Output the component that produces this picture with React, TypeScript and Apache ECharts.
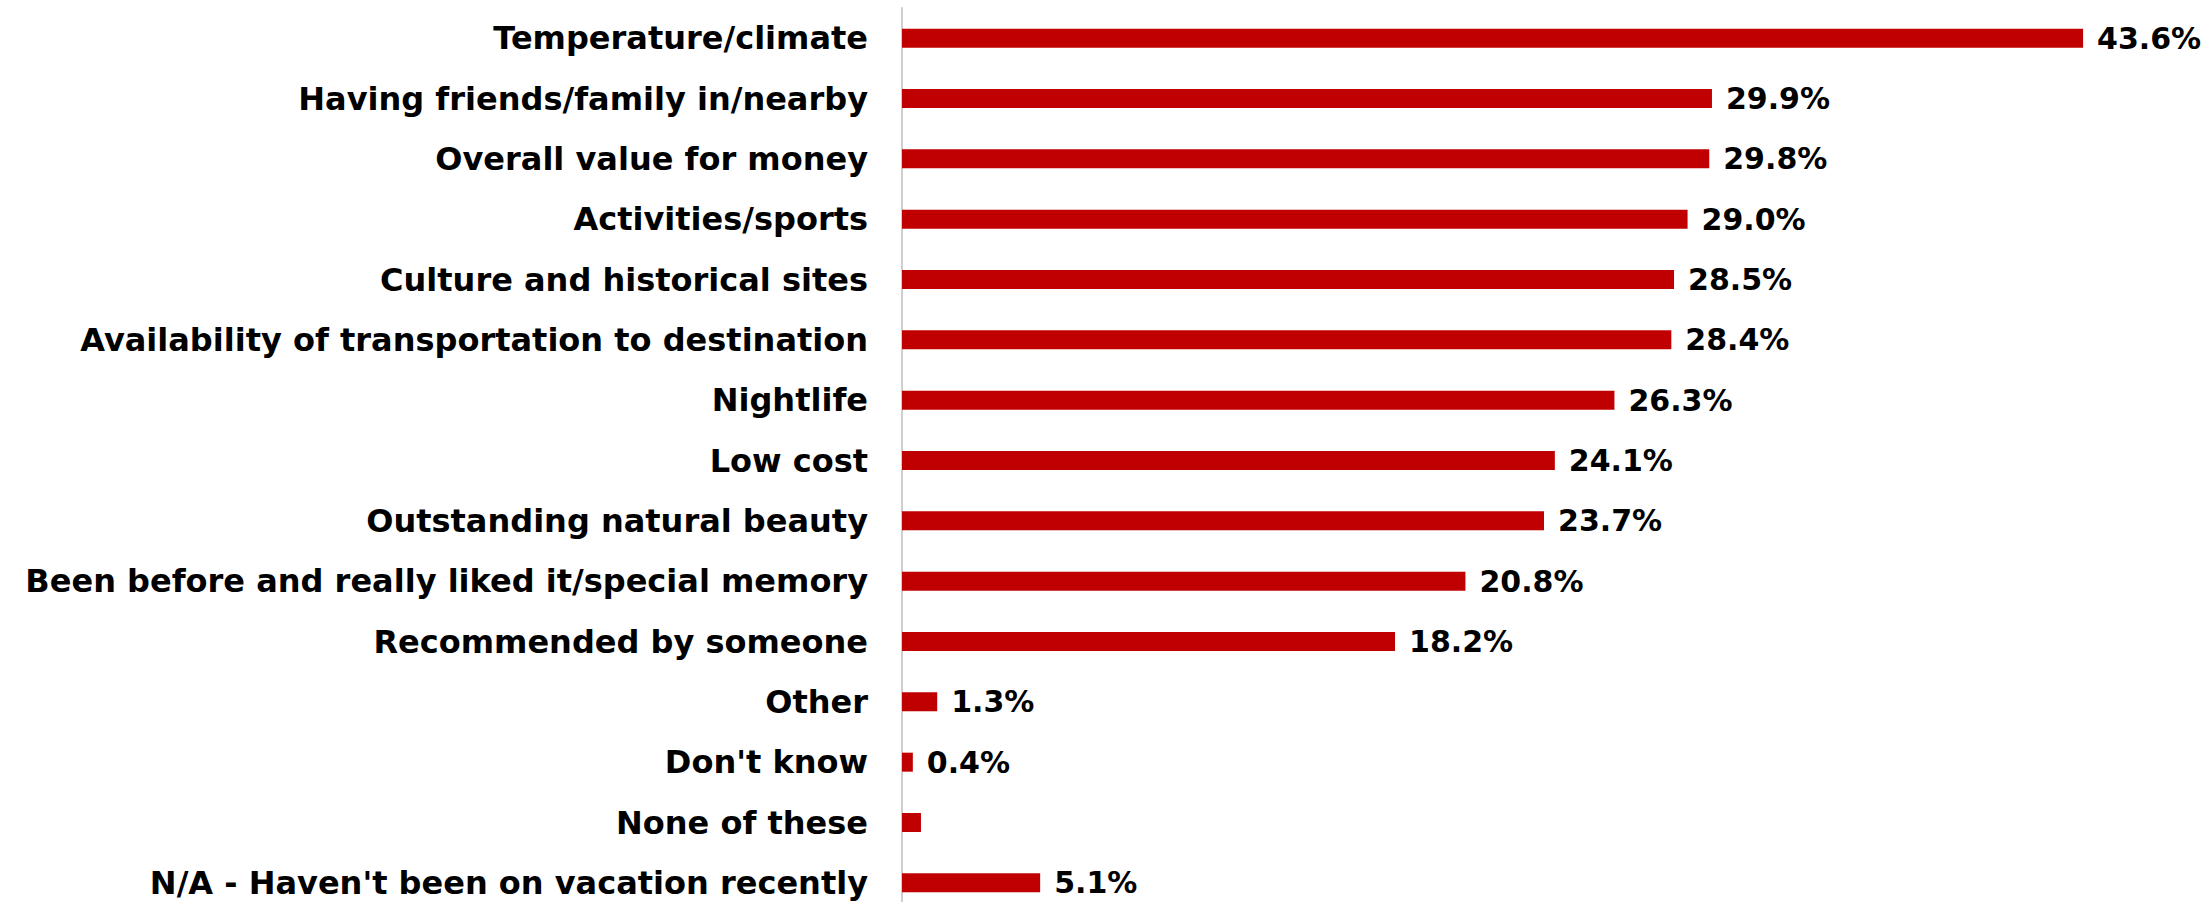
import React, { useEffect, useRef } from "react";
import * as echarts from "echarts";

const categories: string[] = [
  "Temperature/climate",
  "Having friends/family in/nearby",
  "Overall value for money",
  "Activities/sports",
  "Culture and historical sites",
  "Availability of transportation to destination",
  "Nightlife",
  "Low cost",
  "Outstanding natural beauty",
  "Been before and really liked it/special memory",
  "Recommended by someone",
  "Other",
  "Don't know",
  "None of these",
  "N/A - Haven't been on vacation recently",
];

const values: number[] = [43.6, 29.9, 29.8, 29.0, 28.5, 28.4, 26.3, 24.1, 23.7, 20.8, 18.2, 1.3, 0.4, 0.7, 5.1];

const valueLabels: string[] = [
  "43.6%", "29.9%", "29.8%", "29.0%", "28.5%", "28.4%", "26.3%", "24.1%",
  "23.7%", "20.8%", "18.2%", "1.3%", "0.4%", "", "5.1%",
];

const FONT = "'DejaVu Sans', sans-serif";

export default function App() {
  const ref = useRef<HTMLDivElement>(null);
  useEffect(() => {
    if (!ref.current) return;
    const chart = echarts.init(ref.current, undefined, { renderer: "svg" });
    chart.setOption({
      animation: false,
      backgroundColor: "#ffffff",
      grid: { left: 902, right: 90, top: 8, bottom: 0, containLabel: false },
      xAxis: {
        type: "value",
        min: 0,
        max: 45,
        show: false,
        splitLine: { show: false },
      },
      yAxis: {
        type: "category",
        inverse: true,
        data: categories,
        axisLine: { show: true, lineStyle: { color: "#cfcfcf", width: 2 } },
        axisTick: { show: false },
        splitLine: { show: false },
        axisLabel: {
          margin: 34,
          color: "#000000",
          fontFamily: FONT,
          fontWeight: "bold",
          fontSize: 32,
        },
      },
      series: [
        {
          type: "bar",
          data: values,
          barWidth: 19,
          itemStyle: { color: "#C00000" },
          label: {
            show: true,
            position: "right",
            distance: 14,
            color: "#000000",
            fontFamily: FONT,
            fontWeight: "bold",
            fontSize: 30,
            formatter: (p: any) => valueLabels[p.dataIndex],
          },
        },
      ],
    });
    return () => chart.dispose();
  }, []);
  return (
    <div
      style={{
        position: "absolute",
        left: 0,
        top: 0,
        width: 2211,
        height: 902,
        overflow: "hidden",
        background: "#ffffff",
      }}
    >
      <div ref={ref} style={{ width: 2211, height: 913 }} />
    </div>
  );
}
